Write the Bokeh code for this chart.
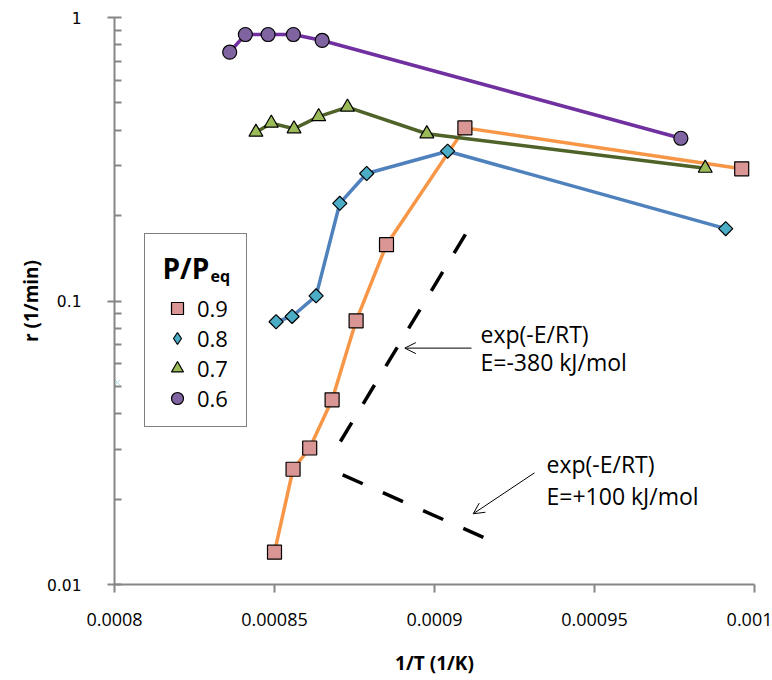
import math
from bokeh.plotting import figure
from bokeh.models import (Range1d, FixedTicker, CustomJSTickFormatter, Legend,
                          LegendItem, Label, Arrow, OpenHead)
from bokeh.embed import file_html
from bokeh.resources import INLINE

# ---------------- data ----------------
x_09 = [0.000850, 0.0008558, 0.000861, 0.000868, 0.0008755, 0.000885, 0.0009095, 0.000996]
r_09 = [0.0130, 0.0255, 0.0303, 0.0448, 0.0851, 0.158, 0.408, 0.2925]

x_08 = [0.0008505, 0.0008555, 0.000863, 0.0008704, 0.0008788, 0.0009041, 0.000991]
r_08 = [0.0845, 0.0882, 0.1043, 0.221, 0.2817, 0.3376, 0.180]

x_07 = [0.0008442, 0.000849, 0.0008561, 0.0008638, 0.0008728, 0.0008976, 0.0009846]
r_07 = [0.394, 0.424, 0.405, 0.447, 0.483, 0.389, 0.294]

x_06 = [0.000836, 0.0008409, 0.000848, 0.0008559, 0.0008649, 0.000977]
r_06 = [0.7546, 0.871, 0.871, 0.871, 0.83, 0.375]

x_stray = [0.0008009]
r_stray = [0.0516]

series_labels = ["0.9", "0.8", "0.7", "0.6"]

# guide lines exp(-E/RT)
guide_m380_x = [0.0008706, 0.0009102]
guide_m380_r = [0.03195, 0.1759]
guide_p100_x = [0.0008713, 0.0009168]
guide_p100_r = [0.02437, 0.01441]

# annotation arrows (start -> end)
arrow1_x = [0.00091156, 0.00089072]
arrow1_r = [0.0682, 0.0682]
arrow2_x = [0.00093125, 0.00091209]
arrow2_r = [0.02477, 0.01776]

note1_lines = ["exp(-E/RT)", "E=-380 kJ/mol"]
note1_x = 0.00091438
note1_r = [0.0766, 0.0608]
note2_lines = ["exp(-E/RT)", "E=+100 kJ/mol"]
note2_x = 0.000935
note2_r = [0.02665, 0.0206]

x_ticks = [0.0008, 0.00085, 0.0009, 0.00095, 0.001]
y_ticks = [0.01, 0.1, 1]
y_minor = [k * 10.0 ** e for e in (-2, -1) for k in range(2, 10)]

# ---------------- figure ----------------
p = figure(width=772, height=680,
           x_range=Range1d(0.0008, 0.001), y_range=Range1d(0.01, 1),
           y_axis_type="log", output_backend="svg", toolbar_location=None,
           min_border_left=114, min_border_right=18, min_border_top=17,
           min_border_bottom=96)
p.outline_line_color = None
p.grid.visible = False
p.background_fill_color = "white"
p.border_fill_color = "white"

AX = "#868686"
xa = p.xaxis[0]
xa.ticker = FixedTicker(ticks=x_ticks, minor_ticks=[])
xa.formatter = CustomJSTickFormatter(code="return String(Number(tick.toFixed(5)))")
xa.axis_line_color = AX
xa.axis_line_width = 2
xa.major_tick_line_color = AX
xa.major_tick_line_width = 2
xa.major_tick_out = 8
xa.major_tick_in = 0
xa.minor_tick_line_color = None
xa.major_label_text_font = "Open Sans"
xa.major_label_text_font_size = "18px"
xa.major_label_text_color = "#000000"
xa.major_label_standoff = 20
xa.axis_label = "1/T (1/K)"
xa.axis_label_text_font = "Open Sans"
xa.axis_label_text_font_style = "bold"
xa.axis_label_text_font_size = "19px"
xa.axis_label_text_color = "#000000"
xa.axis_label_standoff = 21

ya = p.yaxis[0]
ya.ticker = FixedTicker(ticks=y_ticks, minor_ticks=y_minor)
ya.formatter = CustomJSTickFormatter(code="return String(Number(tick.toPrecision(2)))")
ya.axis_line_color = AX
ya.axis_line_width = 2
ya.major_tick_line_color = AX
ya.major_tick_line_width = 2
ya.major_tick_out = 7
ya.major_tick_in = 7
ya.minor_tick_line_color = AX
ya.minor_tick_line_width = 2
ya.minor_tick_out = 0
ya.minor_tick_in = 7
ya.major_label_text_font = "DejaVu Sans"
ya.major_label_text_font_size = "15.5px"
ya.major_label_text_color = "#000000"
ya.major_label_standoff = 26
ya.axis_label = "r (1/min)"
ya.axis_label_text_font = "Open Sans"
ya.axis_label_text_font_style = "bold"
ya.axis_label_text_font_size = "19px"
ya.axis_label_text_color = "#000000"
ya.axis_label_standoff = 0

# ---------------- series ----------------
LW = 3.5
series = [
    (x_09, r_09, "#F79646", "#D99694", "square", 14, 0.0),
    (x_08, r_08, "#4F81BD", "#4BACC6", "square", 10, math.pi / 4),
    (x_07, r_07, "#4F6228", "#9BBB59", "triangle", 14, 0.0),
    (x_06, r_06, "#7030A0", "#8064A2", "circle", 14, 0.0),
]
legend_renderers = []
for xs, rs, lc, fc, mk, sz, ang in series:
    p.line(xs, rs, line_color=lc, line_width=LW)
    if ang:
        # a legend swatch renderer (bokeh diamond), fully hidden beneath the
        # rotated-square markers drawn on top of it
        lr = p.scatter(xs, rs, marker="diamond", size=sz, fill_color=fc,
                       line_color="#000000", line_width=1.2)
    m = p.scatter(xs, rs, marker=mk, size=sz, angle=ang, fill_color=fc,
                  line_color="#000000", line_width=1.2)
    legend_renderers.append(lr if ang else m)

p.scatter(x_stray, r_stray, marker="x", size=7, line_color="#A9DCEA", line_width=1)

# guide lines
p.line(guide_m380_x, guide_m380_r, line_color="#000000", line_width=3.5, line_dash="22 22")
p.line(guide_p100_x, guide_p100_r, line_color="#000000", line_width=3.5, line_dash="22 22")

# arrows
p.add_layout(Arrow(end=OpenHead(size=11, line_width=1, line_color="#000000"),
                   x_start=arrow1_x[0], y_start=arrow1_r[0],
                   x_end=arrow1_x[1], y_end=arrow1_r[1],
                   line_width=1, line_color="#000000"))
p.add_layout(Arrow(end=OpenHead(size=11, line_width=1, line_color="#000000"),
                   x_start=arrow2_x[0], y_start=arrow2_r[0],
                   x_end=arrow2_x[1], y_end=arrow2_r[1],
                   line_width=1, line_color="#000000"))

for lines, nx, nrs in ((note1_lines, note1_x, note1_r), (note2_lines, note2_x, note2_r)):
    for t, ny in zip(lines, nrs):
        p.add_layout(Label(x=nx, y=ny, text=t, text_font="Open Sans",
                           text_font_size="23px", text_color="#000000",
                           text_baseline="middle", text_align="left"))

# ---------------- legend ----------------
legend = Legend(items=[LegendItem(label=lab, renderers=[r])
                       for lab, r in zip(series_labels, legend_renderers)],
                location=(30, 157), orientation="vertical",
                title=" ", title_text_font="Open Sans", title_text_font_size="28px",
                title_text_font_style="bold", title_standoff=8,
                label_text_font="Open Sans", label_text_font_size="22px",
                label_text_color="#000000",
                glyph_width=38, glyph_height=30, label_height=30, label_width=36,
                label_standoff=1, spacing=0, padding=13, margin=0,
                border_line_color="#000000", border_line_width=1,
                background_fill_color=None)
p.add_layout(legend)

p.add_layout(Label(x=48, y=317, x_units="screen", y_units="screen", text="P/P",
                   text_font="Open Sans", text_font_style="bold", text_font_size="28px",
                   text_color="#000000", text_baseline="alphabetic"))
p.add_layout(Label(x=96, y=309, x_units="screen", y_units="screen", text="eq",
                   text_font="Open Sans", text_font_style="bold", text_font_size="16px",
                   text_color="#000000", text_baseline="alphabetic"))

open("out.html", "w").write(file_html(p, INLINE))
